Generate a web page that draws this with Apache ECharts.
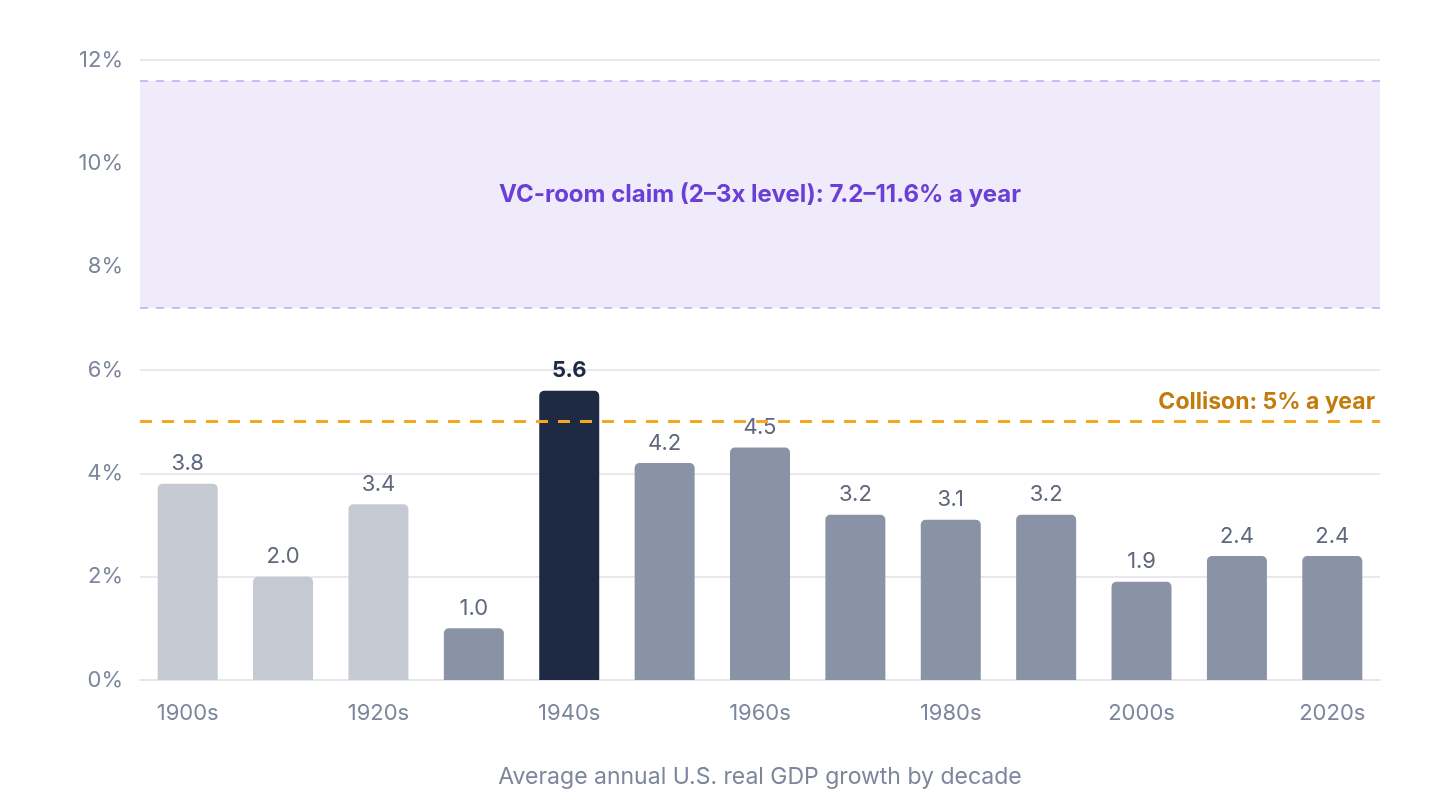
<!DOCTYPE html>
<html>
<head>
<meta charset="utf-8">
<script src="https://cdn.jsdelivr.net/npm/echarts@6/dist/echarts.min.js"></script>
<style>
  html, body { margin: 0; padding: 0; background: #fff; }
  #chart { width: 1440px; height: 810px; }
</style>
</head>
<body>
<div id="chart"></div>
<script>
var decades = ['1900s', '1910s', '1920s', '1930s', '1940s', '1950s', '1960s', '1970s', '1980s', '1990s', '2000s', '2010s', '2020s'];
var growth = [3.8, 2.0, 3.4, 1.0, 5.6, 4.2, 4.5, 3.2, 3.1, 3.2, 1.9, 2.4, 2.4];
// 0 = light (early decades), 1 = normal, 2 = highlight
var barTone = [0, 0, 0, 1, 2, 1, 1, 1, 1, 1, 1, 1, 1];
var yTicks = [0, 2, 4, 6, 8, 10, 12];
var vcBand = [7.2, 11.6];
var collisonLevel = 5;

var toneColor = ['#c5c9d2', '#8a93a5', '#1e2a44'];
var FONT = 'Inter, "Noto Sans", sans-serif';

var chart = echarts.init(document.getElementById('chart'));

var option = {
    backgroundColor: '#ffffff',
    textStyle: { fontFamily: FONT },
    grid: { left: 140, right: 60, top: 60, bottom: 130 },
    xAxis: {
        type: 'category',
        data: decades,
        name: 'Average annual U.S. real GDP growth by decade',
        nameLocation: 'middle',
        nameGap: 86,
        nameTextStyle: { color: '#7d869c', fontSize: 23, fontFamily: FONT },
        axisLine: { lineStyle: { color: '#e6e6ec', width: 2 } },
        axisTick: { show: false },
        axisLabel: {
            interval: 1,
            color: '#7d869c',
            fontSize: 22,
            margin: 22,
            fontFamily: FONT
        }
    },
    yAxis: {
        type: 'value',
        min: 0,
        max: yTicks[yTicks.length - 1],
        interval: 2,
        axisLine: { show: false },
        axisTick: { show: false },
        splitLine: { lineStyle: { color: '#e8e8ee', width: 2 } },
        axisLabel: {
            formatter: '{value}%',
            color: '#7d869c',
            fontSize: 22,
            margin: 17,
            fontFamily: FONT
        }
    },
    series: [
        {
            type: 'bar',
            barWidth: 60,
            data: growth.map(function (v, i) {
                var tone = barTone[i];
                return {
                    value: v,
                    itemStyle: { color: toneColor[tone], borderRadius: [5, 5, 0, 0] },
                    label: tone === 2
                        ? { color: '#1e2a44', fontWeight: 'bold' }
                        : { color: '#5f687c' }
                };
            }),
            label: {
                show: true,
                position: 'top',
                distance: 9,
                fontSize: 22,
                fontFamily: FONT,
                formatter: function (p) { return p.value.toFixed(1); }
            },
            markArea: {
                silent: true,
                itemStyle: {
                    color: '#efebfb',
                    borderWidth: 0
                },
                label: {
                    position: 'inside',
                    color: '#6a3fd6',
                    fontSize: 24,
                    fontWeight: 'bold',
                    fontFamily: FONT
                },
                data: [[
                    { yAxis: vcBand[0], name: 'VC-room claim (2\u20133x level): 7.2\u201311.6% a year' },
                    { yAxis: vcBand[1] }
                ]]
            },
            markLine: {
                silent: true,
                symbol: 'none',
                data: [
                    {
                        yAxis: collisonLevel,
                        lineStyle: { color: '#f5a623', type: [12, 10], width: 3 },
                        label: {
                            show: true,
                            position: 'insideEndTop',
                            formatter: 'Collison: 5% a year',
                            color: '#c27c0e',
                            fontSize: 23,
                            fontWeight: 'bold',
                            fontFamily: FONT,
                            distance: [5, 8]
                        }
                    },
                    {
                        yAxis: vcBand[0],
                        lineStyle: { color: '#c9bdf3', type: [8, 8], width: 2 },
                        label: { show: false }
                    },
                    {
                        yAxis: vcBand[1],
                        lineStyle: { color: '#c9bdf3', type: [8, 8], width: 2 },
                        label: { show: false }
                    }
                ]
            }
        }
    ]
};

chart.setOption(option);
</script>
</body>
</html>
